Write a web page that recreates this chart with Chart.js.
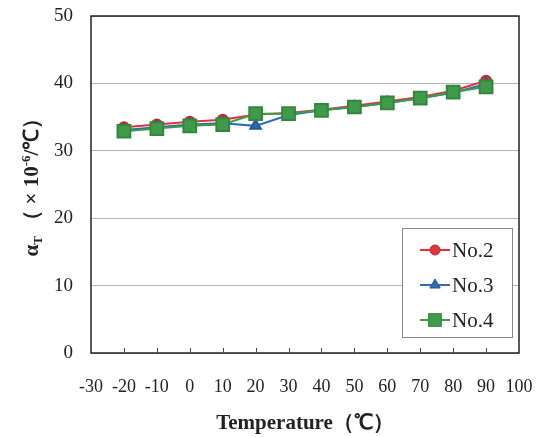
<!DOCTYPE html>
<html>
<head>
<meta charset="utf-8">
<script src="https://cdn.jsdelivr.net/npm/chart.js@4.4.1/dist/chart.umd.min.js"></script>
<style>
  html, body { margin: 0; padding: 0; background: #fff; }
  #wrap { width: 544px; height: 437px; position: relative; }
</style>
</head>
<body>
<div id="wrap"><canvas id="chart"></canvas></div>
<script>
// data
const temps = [-20, -10, 0, 10, 20, 30, 40, 50, 60, 70, 80, 90];
const no2   = [33.5, 33.9, 34.3, 34.6, 35.4, 35.6, 36.1, 36.7, 37.3, 38.0, 38.9, 40.4];
const no3   = [33.1, 33.5, 33.9, 34.1, 33.7, 35.3, 36.0, 36.5, 37.1, 37.8, 38.6, 39.9];
const no4   = [32.9, 33.3, 33.7, 33.9, 35.5, 35.5, 36.0, 36.5, 37.1, 37.8, 38.7, 39.5];
const seriesNames = ['No.2', 'No.3', 'No.4'];

const SERIF = "'Liberation Serif', 'Times New Roman', serif";
const pts = vals => vals.map((v, i) => ({ x: temps[i], y: v }));

// y title with subscript / superscript
const yTitle = {
  id: 'yTitle',
  afterDraw(chart) {
    const ctx = chart.ctx;
    const parts = [
      ['α', 21, 0], ['T', 13, 4], [' （ × 10', 21, 0], ['-6', 13, -8], ['/℃）', 21, 0]
    ];
    ctx.save();
    ctx.fillStyle = '#222';
    ctx.textBaseline = 'alphabetic';
    let total = 0;
    parts.forEach(p => { ctx.font = 'bold ' + p[1] + 'px ' + SERIF; total += ctx.measureText(p[0]).width; });
    ctx.translate(31, 182);
    ctx.rotate(-Math.PI / 2);
    let x = -total / 2;
    parts.forEach(p => {
      ctx.font = 'bold ' + p[1] + 'px ' + SERIF;
      ctx.fillText(p[0], x, 7 + p[2]);
      x += ctx.measureText(p[0]).width;
    });
    ctx.restore();
  }
};

// frame, inward x ticks and the boxed legend inside the plot
const frameAndLegend = {
  id: 'frameAndLegend',
  afterDraw(chart) {
    const ctx = chart.ctx, a = chart.chartArea, xs = chart.scales.x;
    ctx.save();
    ctx.strokeStyle = '#222';
    ctx.lineWidth = 1.5;
    ctx.strokeRect(a.left, a.top, a.right - a.left, a.bottom - a.top);

    ctx.strokeStyle = '#444';
    ctx.lineWidth = 1;
    temps.forEach(t => {
      const px = Math.round(xs.getPixelForValue(t)) + 0.5;
      ctx.beginPath(); ctx.moveTo(px, a.bottom); ctx.lineTo(px, a.bottom - 5); ctx.stroke();
    });

    const x0 = a.right - 117, y0 = a.bottom - 125, w = 110, h = 109;
    ctx.fillStyle = '#fff';
    ctx.fillRect(x0, y0, w, h);
    ctx.strokeStyle = '#888';
    ctx.strokeRect(x0 + 0.5, y0 + 0.5, w, h);

    chart.data.datasets.forEach((ds, i) => {
      const cy = y0 + 22 + i * 35;
      ctx.strokeStyle = ds.borderColor;
      ctx.lineWidth = 2;
      ctx.beginPath(); ctx.moveTo(x0 + 18, cy); ctx.lineTo(x0 + 48, cy); ctx.stroke();
      ctx.fillStyle = ds.pointBackgroundColor;
      ctx.strokeStyle = ds.pointBorderColor;
      ctx.lineWidth = 1;
      Chart.helpers.drawPoint(ctx, { pointStyle: ds.pointStyle, radius: ds.pointRadius, rotation: 0, borderWidth: 1 }, x0 + 33, cy);
      ctx.fillStyle = '#222';
      ctx.font = '21px ' + SERIF;
      ctx.textBaseline = 'middle';
      ctx.fillText(ds.label, x0 + 50, cy + 1);
    });
    ctx.restore();
  }
};

new Chart(document.getElementById('chart'), {
  type: 'line',
  data: {
    datasets: [
      { label: seriesNames[0], data: pts(no2), order: 3, borderColor: '#e0343c', borderWidth: 2,
        pointStyle: 'circle', pointRadius: 5, pointBackgroundColor: '#e0343c', pointBorderColor: '#c42830' },
      { label: seriesNames[1], data: pts(no3), order: 2, borderColor: '#2f6cb5', borderWidth: 2,
        pointStyle: 'triangle', pointRadius: 6, pointBackgroundColor: '#2f6cb5', pointBorderColor: '#24589a' },
      { label: seriesNames[2], data: pts(no4), order: 1, borderColor: '#3f9b4a', borderWidth: 2,
        pointStyle: 'rect', pointRadius: 9, pointBackgroundColor: '#3f9b4a', pointBorderColor: '#348540' }
    ]
  },
  options: {
    responsive: true,
    maintainAspectRatio: false,
    animation: false,
    layout: { padding: { top: 16, right: 25, left: 0, bottom: 0 } },
    plugins: { legend: { display: false }, tooltip: { enabled: false } },
    scales: {
      x: {
        type: 'linear', min: -30, max: 100,
        grid: { display: false, drawTicks: false },
        border: { display: false },
        ticks: { stepSize: 10, padding: 23, maxRotation: 0, minRotation: 0, autoSkip: false,
                 color: '#222', font: { family: SERIF, size: 18 } },
        title: { display: true, text: 'Temperature（℃）', color: '#222', padding: { top: 0, bottom: 1 },
                 font: { family: SERIF, size: 21, weight: 'bold' } },
        afterFit: s => { s.height = 84; s.paddingLeft = 0; s.paddingRight = 0; }
      },
      y: {
        min: 0, max: 50,
        grid: { color: '#b5b5b5', drawTicks: false },
        border: { display: false },
        ticks: { stepSize: 10, padding: 18, color: '#222', font: { family: SERIF, size: 19 } },
        afterFit: s => { s.width = 91; s.paddingTop = 0; s.paddingBottom = 0; }
      }
    }
  },
  plugins: [yTitle, frameAndLegend]
});
</script>
</body>
</html>
